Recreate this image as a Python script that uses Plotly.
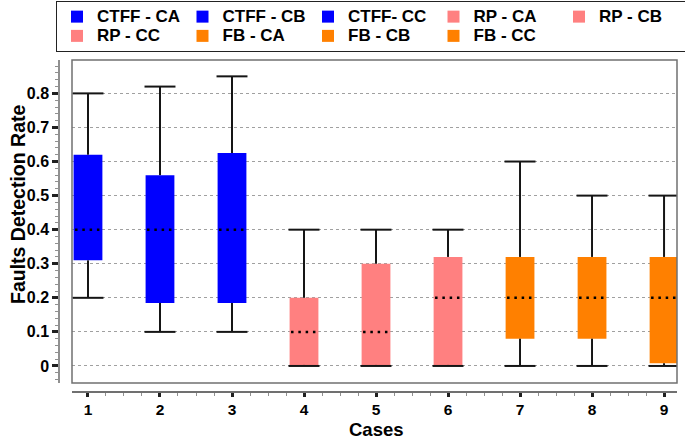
import plotly.graph_objects as go

# ---- data ----
cases = [1, 2, 3, 4, 5, 6, 7, 8, 9]
labels = ["CTFF - CA", "CTFF - CB", "CTFF- CC", "RP - CA", "RP - CB",
          "RP - CC", "FB - CA", "FB - CB", "FB - CC"]
colors = ["#0000FF", "#0000FF", "#0000FF", "#FF8080", "#FF8080",
          "#FF8080", "#FF8000", "#FF8000", "#FF8000"]
upper = [0.80, 0.82, 0.85, 0.40, 0.40, 0.40, 0.60, 0.50, 0.50]
q3 = [0.62, 0.56, 0.625, 0.20, 0.30, 0.32, 0.32, 0.32, 0.32]
median = [0.40, 0.40, 0.40, 0.10, 0.10, 0.20, 0.20, 0.20, 0.20]
q1 = [0.31, 0.185, 0.185, 0.003, 0.003, 0.003, 0.08, 0.08, 0.008]
lower = [0.20, 0.10, 0.10, 0.0, 0.0, 0.0, 0.0, 0.0, 0.0]
ytick_vals = [0, 0.1, 0.2, 0.3, 0.4, 0.5, 0.6, 0.7, 0.8]
ytick_text = ["0", "0.1", "0.2", "0.3", "0.4", "0.5", "0.6", "0.7", "0.8"]

BOX_W = 0.40
CAP_W = 0.43
FONT = "Liberation Sans"

fig = go.Figure()

# boxes as floating bars
for c, lab, col, lo, hi in zip(cases, labels, colors, q1, q3):
    fig.add_trace(go.Bar(
        x=[c], y=[hi - lo], base=[lo], width=BOX_W,
        name='<span style="font-size:17px;">%s</span>' % lab,
        marker=dict(color=col, line=dict(width=0)),
        showlegend=True,
    ))

# whiskers + caps
wx, wy = [], []
for c, lo, a, b, hi in zip(cases, lower, q1, q3, upper):
    wx += [c, c, None, c, c, None,
           c - CAP_W / 2, c + CAP_W / 2, None,
           c - CAP_W / 2, c + CAP_W / 2, None]
    wy += [b, hi, None, a, lo, None, hi, hi, None, lo, lo, None]
fig.add_trace(go.Scatter(x=wx, y=wy, mode="lines",
                         line=dict(color="#151515", width=2),
                         showlegend=False, hoverinfo="skip"))

# medians (dotted)
mx, my = [], []
for c, m in zip(cases, median):
    mx += [c - BOX_W / 2 + 0.02, c + BOX_W / 2, None]
    my += [m, m, None]
fig.add_trace(go.Scatter(x=mx, y=my, mode="lines",
                         line=dict(color="black", width=2.5, dash="2.5px,4.8px"),
                         showlegend=False, hoverinfo="skip"))

W, H = 685, 439
ML, MR, MT, MB = 59, 8, 60, 47
PW = W - ML - MR
PH = H - MT - MB


def px_x(p):
    return (p - ML) / PW


def px_y(p):
    return (H - MB - p) / PH


fig.update_layout(
    width=W, height=H,
    margin=dict(l=ML, r=MR, t=MT, b=MB, autoexpand=False),
    paper_bgcolor="white", plot_bgcolor="white",
    barmode="overlay",
    font=dict(family=FONT, size=15, color="black", weight="bold"),
    xaxis=dict(
        domain=[13 / PW, 1], anchor="free", position=0,
        range=[0.778, 9.18], tickvals=cases, ticktext=[str(c) for c in cases],
        showgrid=False, zeroline=False,
        showline=True, linecolor="#707070", linewidth=1.5,
        ticks="outside", ticklen=4, tickwidth=3, tickcolor="#202020",
        minor=dict(dtick=0.25, tick0=0, ticks="outside", ticklen=3,
                   tickwidth=1, tickcolor="#909090", showgrid=False),
        tickfont=dict(size=15.5, family=FONT, weight="bold"),
        automargin=False,
    ),
    xaxis2=dict(
        overlaying="x", matches="x", anchor="y",
        range=[0.778, 9.18], domain=[13 / PW, 1],
        tick0=0.5, dtick=1, showgrid=True, gridcolor="#A0A0A0",
        griddash="3px,3px", gridwidth=1,
        showticklabels=False, ticks="", showline=False, zeroline=False,
    ),
    yaxis=dict(
        domain=[9 / PH, 1], anchor="free", position=0,
        range=[-0.05, 0.898], tickvals=ytick_vals, ticktext=ytick_text,
        showgrid=True, gridcolor="#A0A0A0", griddash="3px,3px", gridwidth=1,
        zeroline=False,
        showline=True, linecolor="#909090", linewidth=1.5,
        ticks="outside", ticklen=6, tickwidth=2.5, tickcolor="#202020",
        minor=dict(dtick=0.02, tick0=0, ticks="outside", ticklen=3,
                   tickwidth=1, tickcolor="#909090", showgrid=False),
        tickfont=dict(size=16, family=FONT, weight="bold"),
        automargin=False,
    ),
    legend=dict(
        orientation="h", x=px_x(56), y=px_y(1),
        xanchor="left", yanchor="top",
        bgcolor="white", bordercolor="#222222", borderwidth=1,
        font=dict(size=12.5, family=FONT, weight="bold"),
        entrywidth=80.5, entrywidthmode="pixels",
        itemsizing="constant", traceorder="normal",
    ),
    shapes=[
        dict(type="rect", xref="x domain", yref="y domain", x0=0, x1=1, y0=0, y1=1,
             line=dict(color="#707070", width=1.5), fillcolor="rgba(0,0,0,0)",
             layer="above"),
        # legend drop shadow
        dict(type="rect", xref="paper", yref="paper",
             x0=px_x(59), x1=px_x(682), y0=px_y(47), y1=px_y(4),
             line=dict(width=0), fillcolor="black", layer="above"),
    ],
    annotations=[
        dict(text="Faults Detection Rate", xref="paper", yref="paper",
             x=px_x(18), y=px_y(204), textangle=-90,
             showarrow=False, font=dict(size=19.5, family=FONT, weight="bold"),
             xanchor="center", yanchor="middle"),
        dict(text="Cases", xref="paper", yref="paper",
             x=px_x(376), y=px_y(429.5),
             showarrow=False, font=dict(size=18.5, family=FONT, weight="bold"),
             xanchor="center", yanchor="middle"),
    ],
)

fig.write_html("out.html", config={"displayModeBar": False},
               post_script="document.body.style.margin='0';document.body.style.padding='0';")
